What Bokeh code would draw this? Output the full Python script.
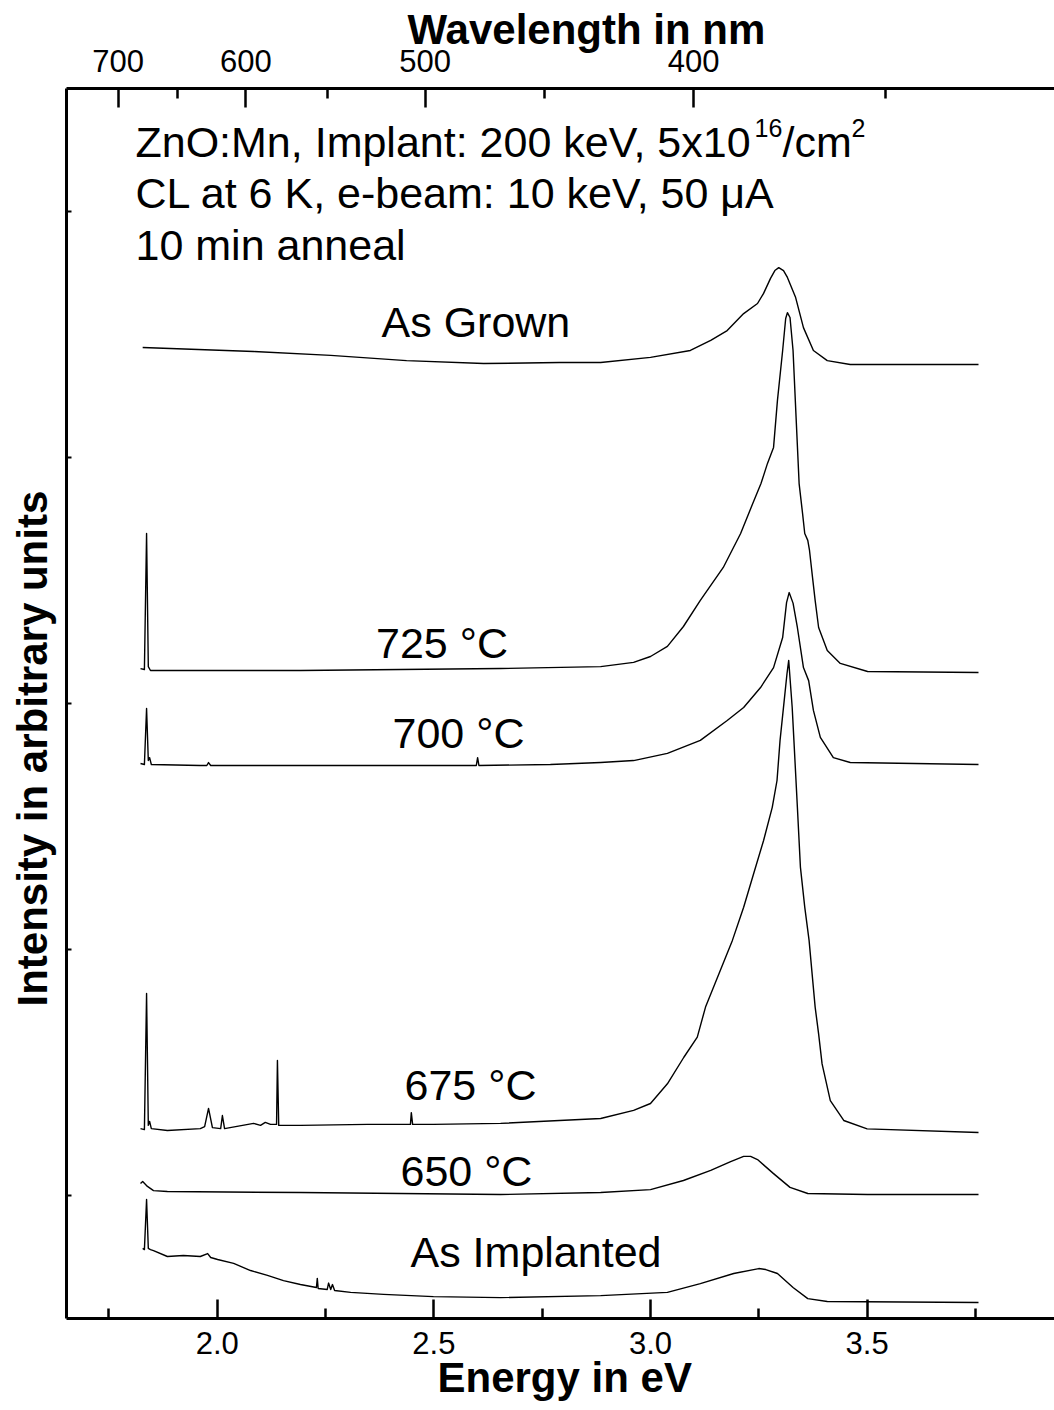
from bokeh.plotting import figure
from bokeh.models import LinearAxis, FixedTicker, Range1d, Label, Title, CustomJSTickFormatter, NumeralTickFormatter
from bokeh.embed import file_html
from bokeh.resources import INLINE

# ---------------- data: energy (eV) and offset intensity (arb. units) ----------------
grown_E = [1.828, 2.084, 2.262, 2.437, 2.615, 2.790, 2.885, 3.000, 3.092, 3.139,
           3.177, 3.215, 3.247, 3.261, 3.277, 3.287, 3.296, 3.307, 3.316, 3.335,
           3.353, 3.376, 3.408, 3.461, 3.757]
grown_I = [3.447, 3.431, 3.415, 3.394, 3.382, 3.386, 3.386, 3.407, 3.435, 3.476,
           3.516, 3.585, 3.626, 3.667, 3.728, 3.760, 3.772, 3.760, 3.732, 3.650,
           3.528, 3.435, 3.394, 3.378, 3.378]

a725_E = [1.823, 1.832, 1.837, 1.841, 1.846, 1.961, 2.192, 2.423, 2.654, 2.885,
          2.961, 3.000, 3.039, 3.076, 3.115, 3.168, 3.208, 3.236, 3.255, 3.270,
          3.284, 3.293, 3.305, 3.312, 3.316, 3.322, 3.329, 3.336, 3.343, 3.351,
          3.356, 3.363, 3.367, 3.374, 3.380, 3.388, 3.408, 3.438, 3.501, 3.757]
a725_I = [2.142, 2.138, 2.691, 2.150, 2.134, 2.134, 2.134, 2.138, 2.142, 2.150,
          2.167, 2.191, 2.232, 2.313, 2.419, 2.553, 2.691, 2.813, 2.894, 2.976,
          3.041, 3.232, 3.435, 3.565, 3.589, 3.569, 3.435, 3.163, 2.894, 2.772,
          2.691, 2.663, 2.622, 2.512, 2.419, 2.309, 2.215, 2.163, 2.130, 2.126]

a700_E = [1.823, 1.832, 1.837, 1.841, 1.844, 1.848, 1.961, 1.976, 1.980, 1.985,
          2.192, 2.423, 2.598, 2.601, 2.604, 2.769, 2.885, 2.961, 3.039, 3.115,
          3.177, 3.215, 3.254, 3.284, 3.305, 3.314, 3.320, 3.329, 3.339, 3.353,
          3.365, 3.376, 3.392, 3.422, 3.461, 3.757]
a700_I = [1.756, 1.752, 1.980, 1.768, 1.780, 1.752, 1.748, 1.748, 1.760, 1.748,
          1.748, 1.748, 1.748, 1.780, 1.748, 1.752, 1.760, 1.768, 1.797, 1.850,
          1.931, 1.984, 2.065, 2.146, 2.268, 2.410, 2.451, 2.408, 2.309, 2.146,
          2.093, 1.972, 1.862, 1.780, 1.760, 1.752]

a675_E = [1.823, 1.832, 1.837, 1.841, 1.844, 1.848, 1.885, 1.961, 1.971, 1.980,
          1.989, 2.008, 2.012, 2.017, 2.084, 2.100, 2.111, 2.123, 2.137, 2.139,
          2.142, 2.192, 2.347, 2.446, 2.448, 2.451, 2.499, 2.654, 2.885, 2.961,
          3.000, 3.039, 3.077, 3.108, 3.127, 3.158, 3.189, 3.215, 3.238, 3.261,
          3.281, 3.292, 3.299, 3.307, 3.315, 3.319, 3.327, 3.331, 3.339, 3.346,
          3.356, 3.366, 3.373, 3.380, 3.388, 3.396, 3.415, 3.446, 3.500, 3.757]
a675_I = [0.272, 0.268, 0.821, 0.285, 0.301, 0.272, 0.264, 0.272, 0.280, 0.354,
          0.276, 0.272, 0.325, 0.272, 0.293, 0.285, 0.297, 0.289, 0.289, 0.549,
          0.285, 0.285, 0.289, 0.289, 0.337, 0.289, 0.289, 0.293, 0.313, 0.346,
          0.374, 0.454, 0.562, 0.644, 0.766, 0.901, 1.037, 1.172, 1.308, 1.443,
          1.578, 1.687, 1.850, 1.985, 2.121, 2.175, 1.985, 1.850, 1.578, 1.335,
          1.172, 1.037, 0.901, 0.766, 0.657, 0.535, 0.386, 0.305, 0.271, 0.256]

a650_E = [1.823, 1.828, 1.839, 1.853, 1.885, 2.192, 2.654, 2.885, 3.000, 3.076,
          3.139, 3.185, 3.215, 3.231, 3.247, 3.284, 3.322, 3.363, 3.501, 3.757]
a650_I = [0.049, 0.057, 0.037, 0.020, 0.016, 0.012, 0.004, 0.012, 0.024, 0.061,
          0.102, 0.138, 0.159, 0.159, 0.146, 0.089, 0.033, 0.008, 0.004, 0.004]

impl_E = [1.828, 1.832, 1.837, 1.841, 1.846, 1.853, 1.885, 1.922, 1.961, 1.978,
          1.985, 2.001, 2.038, 2.077, 2.116, 2.153, 2.192, 2.229, 2.231, 2.233,
          2.254, 2.257, 2.262, 2.266, 2.271, 2.308, 2.384, 2.499, 2.654, 2.885,
          3.039, 3.115, 3.192, 3.250, 3.266, 3.293, 3.329, 3.363, 3.408, 3.757]
impl_I = [-0.215, -0.220, -0.016, -0.215, -0.220, -0.224, -0.248, -0.244, -0.248, -0.236,
          -0.252, -0.260, -0.276, -0.305, -0.325, -0.346, -0.362, -0.374, -0.337, -0.378,
          -0.382, -0.356, -0.382, -0.362, -0.386, -0.394, -0.402, -0.411, -0.415, -0.407,
          -0.394, -0.358, -0.317, -0.297, -0.301, -0.317, -0.374, -0.419, -0.431, -0.435]

energy_major = [2.0, 2.5, 3.0, 3.5]
energy_minor = [1.75, 2.25, 2.75, 3.25, 3.75]
wl_major = [700, 600, 500, 400]
wl_minor = [650, 550, 450, 350]
y_ticks = [0, 1, 2, 3, 4]
HC = 1239.84  # eV*nm

FONT = "Liberation Sans"

p = figure(width=1054, height=1410, output_backend="svg", toolbar_location=None,
           x_range=Range1d(1.6522, 3.9324), y_range=Range1d(-0.5, 4.5),
           min_border_left=66, min_border_right=0, min_border_top=88, min_border_bottom=92)
p.outline_line_color = None
p.grid.visible = False
p.background_fill_color = "white"
p.border_fill_color = "white"

for E, I in [(grown_E, grown_I), (a725_E, a725_I), (a700_E, a700_I),
             (a675_E, a675_I), (a650_E, a650_I), (impl_E, impl_I)]:
    p.line(E, I, line_color="black", line_width=1.4, line_join="round")


def style_axis(ax, tin, minin, lw, standoff=9):
    ax.axis_line_width = 3
    ax.axis_line_color = "black"
    ax.major_tick_in = tin
    ax.major_tick_out = 0
    ax.minor_tick_in = minin
    ax.minor_tick_out = 0
    ax.major_tick_line_width = lw
    ax.minor_tick_line_width = lw
    ax.major_tick_line_color = "black"
    ax.minor_tick_line_color = "black"
    ax.major_label_text_font = FONT
    ax.major_label_text_font_size = "31px"
    ax.major_label_text_color = "black"
    ax.major_label_standoff = standoff


xa = p.xaxis[0]
xa.ticker = FixedTicker(ticks=energy_major, minor_ticks=energy_minor)
xa.formatter = NumeralTickFormatter(format="0.0")
style_axis(xa, 19, 10, 2.5, standoff=13)

# intensity axis: unlabeled ticks only
ya = p.yaxis[0]
ya.ticker = FixedTicker(ticks=[], minor_ticks=y_ticks)
style_axis(ya, 5, 5, 2, standoff=0)

top = LinearAxis(ticker=FixedTicker(ticks=[HC / w for w in wl_major],
                                    minor_ticks=[HC / w for w in wl_minor]),
                 formatter=CustomJSTickFormatter(code="return (1239.84 / tick).toFixed(0);"))
style_axis(top, 19, 10, 2.5, standoff=17)
p.add_layout(top, "above")


def title(text, side, offset, standoff, valign):
    p.add_layout(Title(text=text, align="left", offset=offset, standoff=standoff,
                       vertical_align=valign, text_font=FONT, text_font_size="42px",
                       text_font_style="bold", text_color="black"), side)


title("Energy in eV", "below", 371, -5, "top")
title("Wavelength in nm", "above", 341, -13, "bottom")
title("Intensity in arbitrary units", "left", 312, 17, "top")


def lab(x, y, text, size, x_offset=0):
    p.add_layout(Label(x=x, y=y, text=text, x_offset=x_offset,
                       text_font=FONT, text_font_size=f"{size}px",
                       text_align="left", text_baseline="alphabetic",
                       text_color="black"))


# header text
lab(1.8114, 4.2845, "ZnO:Mn, Implant: 200 keV, 5x10", 43)
lab(1.8114, 4.3388, "16", 25, x_offset=619)
lab(1.8114, 4.2845, "/cm", 43, x_offset=647)
lab(1.8114, 4.3388, "2", 25, x_offset=716)
lab(1.8114, 4.0772, "CL at 6 K, e-beam: 10 keV, 50 \u03bcA", 43)
lab(1.8114, 3.8658, "10 min anneal", 43)

# trace labels
lab(2.3792, 3.5528, "As Grown", 43)
lab(2.3665, 2.2479, "725 \u00b0C", 43)
lab(2.4046, 1.8821, "700 \u00b0C", 43)
lab(2.4323, 0.4512, "675 \u00b0C", 43)
lab(2.4230, 0.1016, "650 \u00b0C", 43)
lab(2.4461, -0.2317, "As Implanted", 43)

open("out.html", "w").write(file_html(p, INLINE))
